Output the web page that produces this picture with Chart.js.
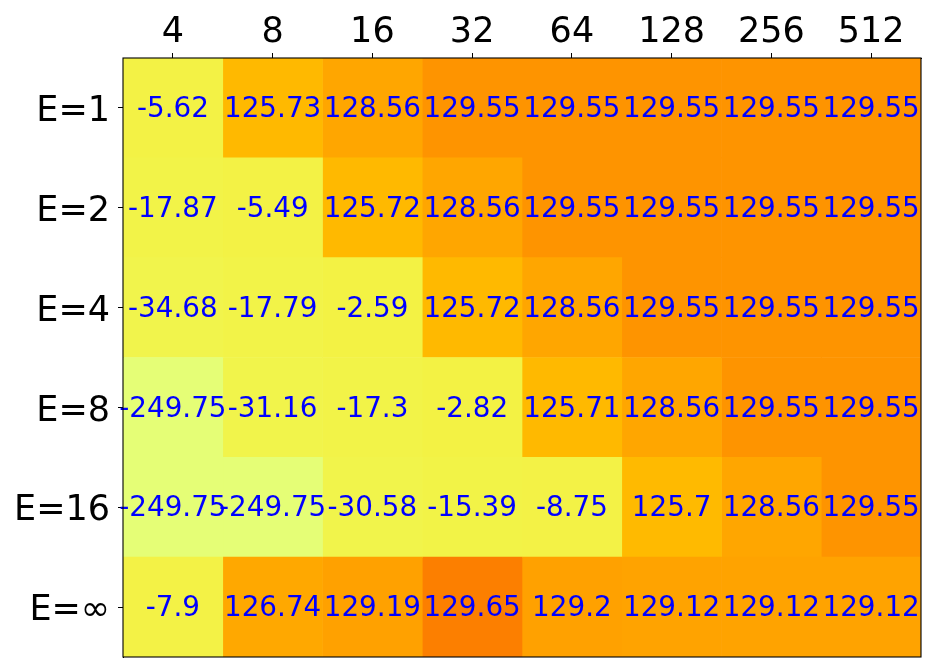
<!DOCTYPE html>
<html>
<head>
<meta charset="utf-8">
<script src="https://cdn.jsdelivr.net/npm/chart.js@4/dist/chart.umd.min.js"></script>
<style>
  html, body { margin: 0; padding: 0; background: #fff; }
  #wrap { width: 934px; height: 671px; }
</style>
</head>
<body>
<div id="wrap"><canvas id="heatChart"></canvas></div>
<script>
const colLabels = ["4", "8", "16", "32", "64", "128", "256", "512"];
const rowLabels = ["E=1", "E=2", "E=4", "E=8", "E=16", "E=\u221e"];

const rowE1 = [-5.62, 125.73, 128.56, 129.55, 129.55, 129.55, 129.55, 129.55];
const rowE2 = [-17.87, -5.49, 125.72, 128.56, 129.55, 129.55, 129.55, 129.55];
const rowE4 = [-34.68, -17.79, -2.59, 125.72, 128.56, 129.55, 129.55, 129.55];
const rowE8 = [-249.75, -31.16, -17.3, -2.82, 125.71, 128.56, 129.55, 129.55];
const rowE16 = [-249.75, -249.75, -30.58, -15.39, -8.75, 125.7, 128.56, 129.55];
const rowEInf = [-7.9, 126.74, 129.19, 129.65, 129.2, 129.12, 129.12, 129.12];

const scores = [rowE1, rowE2, rowE4, rowE8, rowE16, rowEInf];

// Wistia-like colormap
const stops = [
  [0.0, [228, 255, 122]],
  [0.25, [255, 232, 26]],
  [0.5, [255, 189, 0]],
  [0.75, [255, 160, 0]],
  [1.0, [252, 127, 0]],
];
// value -> position on the colormap (the original used a non-linear norm)
const normKnots = [
  [-249.75, 0.01],
  [-35, 0.12],
  [-2.5, 0.14],
  [125.7, 0.53],
  [126.74, 0.68],
  [128.56, 0.7],
  [129.12, 0.72],
  [129.55, 0.84],
  [129.65, 1.0],
];

function lerpKnots(knots, x) {
  if (x <= knots[0][0]) return knots[0][1];
  for (let i = 1; i < knots.length; i++) {
    if (x <= knots[i][0]) {
      const a = knots[i - 1], b = knots[i];
      const f = (x - a[0]) / (b[0] - a[0]);
      return a[1] + f * (b[1] - a[1]);
    }
  }
  return knots[knots.length - 1][1];
}

function cellColor(v) {
  const t = lerpKnots(normKnots, v);
  for (let i = 1; i < stops.length; i++) {
    if (t <= stops[i][0]) {
      const a = stops[i - 1], b = stops[i];
      const f = (t - a[0]) / (b[0] - a[0]);
      const c = a[1].map((ch, k) => Math.round(ch + f * (b[1][k] - ch)));
      return "rgb(" + c.join(",") + ")";
    }
  }
  return "rgb(252,127,0)";
}

// one stacked dataset per column, each row gets a cell of width 1
const datasets = colLabels.map((col, j) => ({
  label: col,
  data: rowLabels.map(() => 1),
  backgroundColor: scores.map((row) => cellColor(row[j])),
  borderWidth: 0,
  barPercentage: 1,
  categoryPercentage: 1,
}));

const cellText = {
  id: "cellText",
  afterDatasetsDraw(chart) {
    const ctx = chart.ctx;
    ctx.save();
    ctx.font = "27.8px 'DejaVu Sans'";
    ctx.fillStyle = "#0000ff";
    ctx.textAlign = "center";
    ctx.textBaseline = "middle";
    chart.data.datasets.forEach((ds, j) => {
      const meta = chart.getDatasetMeta(j);
      meta.data.forEach((el, i) => {
        const x = (el.x + el.base) / 2;
        ctx.fillText(String(scores[i][j]), x, el.y + 2);
      });
    });
    ctx.restore();
  },
};

const frame = {
  id: "frame",
  afterDraw(chart) {
    const a = chart.chartArea;
    const ctx = chart.ctx;
    ctx.save();
    ctx.strokeStyle = "#000";
    ctx.lineWidth = 1.1;
    ctx.strokeRect(a.left, a.top, a.right - a.left, a.bottom - a.top);
    ctx.restore();
  },
};

const heatChart = new Chart(document.getElementById("heatChart").getContext("2d"), {
  type: "bar",
  data: { labels: rowLabels, datasets: datasets },
  options: {
    indexAxis: "y",
    responsive: true,
    maintainAspectRatio: false,
    animation: false,
    layout: { padding: { left: 0, top: 0, right: 13, bottom: 14 } },
    plugins: { legend: { display: false }, tooltip: { enabled: false } },
    scales: {
      x: {
        type: "linear",
        position: "top",
        stacked: true,
        min: 0,
        max: colLabels.length,
        afterBuildTicks: (scale) => {
          scale.ticks = colLabels.map((c, i) => ({ value: i + 0.5 }));
        },
        afterFit: (scale) => {
          scale.height = 58;
          scale.paddingLeft = 0;
          scale.paddingRight = 0;
        },
        ticks: {
          autoSkip: false,
          maxRotation: 0,
          padding: -1,
          color: "#000",
          font: { family: "'DejaVu Sans'", size: 35 },
          callback: (v, i) => colLabels[i],
        },
        grid: { drawOnChartArea: false, tickLength: 5, color: "#000" },
        border: { display: true, color: "#000" },
      },
      y: {
        type: "category",
        stacked: true,
        afterFit: (scale) => {
          scale.width = 123;
          scale.paddingTop = 0;
          scale.paddingBottom = 0;
        },
        ticks: {
          padding: 8,
          labelOffset: 4,
          color: "#000",
          font: { family: "'DejaVu Sans'", size: 35 },
        },
        grid: { offset: false, drawOnChartArea: false, tickLength: 5, color: "#000" },
        border: { display: true, color: "#000" },
      },
    },
  },
  plugins: [cellText, frame],
});
</script>
</body>
</html>
